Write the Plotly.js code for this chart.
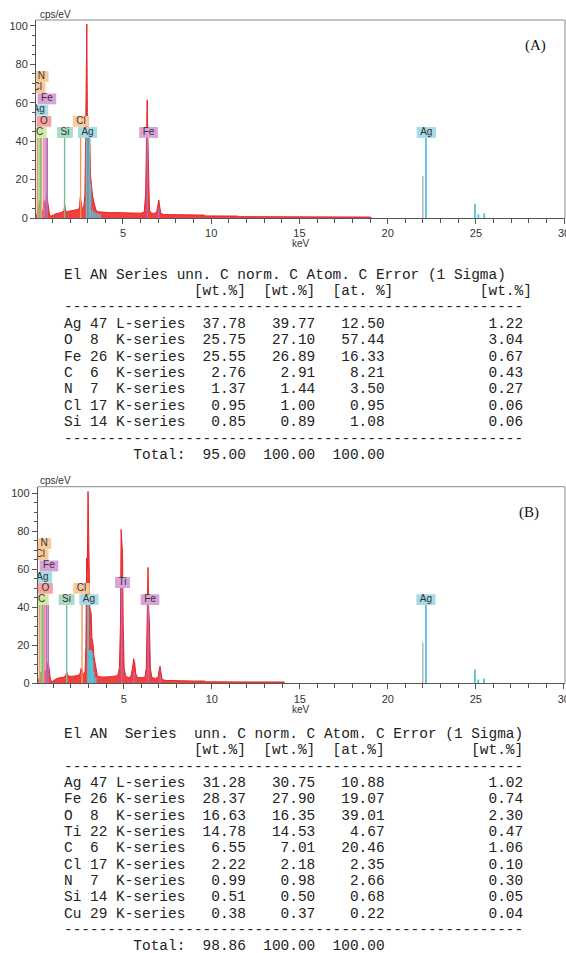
<!DOCTYPE html>
<html><head><meta charset="utf-8">
<script src="https://cdn.plot.ly/plotly-3.0.1.min.js"></script>
<style>html,body{margin:0;padding:0;background:#fff;}#chart{width:566px;height:953px;}</style>
</head><body><div id="chart"></div>
<script>
// ---------------- Spectrum A (keV, cps/eV) ----------------
const specA_keV = [0.07,0.10,0.15,0.20,0.24,0.27,0.31,0.36,0.40,0.45,0.50,0.53,0.57,0.62,0.67,0.70,0.74,0.78,0.84,0.93,1.03,1.20,1.40,1.58,1.65,1.70,1.75,1.88,2.10,2.30,2.48,2.54,2.58,2.62,2.68,2.78,2.84,2.88,2.92,2.95,2.98,3.01,3.05,3.09,3.12,3.16,3.21,3.27,3.33,3.39,3.47,3.60,3.80,4.20,4.60,5.00,5.50,6.00,6.20,6.28,6.33,6.37,6.41,6.45,6.50,6.60,6.80,6.92,6.98,7.03,7.08,7.14,7.30,7.60,8.00,9.00,9.60,9.65,10.5,11.5,11.55,13.0,14.0,14.05,16.0,19.0,19.1];
const specA_cps = [0,1.5,3,4,7,9,5,4,4,3,6,9,6,7,11,12,8,4,1.5,1.0,1.5,2.2,2.6,3.0,3.5,7,3.6,3.4,3.7,4.0,4.5,6,11,9,5,6,12,40,75,101,55,40,38,44,40,22,16,12,9,6,4,3.2,3.0,2.8,2.8,2.7,2.6,2.5,3.0,12,40,61.5,42,12,4,2.6,2.4,3.5,7,9.4,6,2.5,1.8,1.8,1.7,1.6,1.5,1.1,1.1,1.0,0.7,0.7,0.7,0.5,0.5,0.5,0];

// ---------------- Spectrum B (keV, cps/eV) ----------------
const specB_keV = [0.11,0.14,0.20,0.25,0.30,0.35,0.40,0.46,0.52,0.56,0.60,0.65,0.70,0.74,0.78,0.84,0.95,1.05,1.20,1.40,1.60,1.70,1.76,1.82,2.00,2.20,2.40,2.52,2.58,2.63,2.70,2.80,2.85,2.89,2.93,2.97,3.00,3.03,3.07,3.11,3.15,3.19,3.25,3.31,3.37,3.43,3.50,3.60,3.80,4.20,4.50,4.65,4.75,4.81,4.85,4.89,4.93,4.97,5.02,5.10,5.25,5.40,5.50,5.56,5.62,5.68,5.80,6.00,6.20,6.28,6.33,6.38,6.42,6.46,6.51,6.60,6.80,6.95,7.01,7.06,7.11,7.18,7.40,8.00,9.00,9.60,9.65,12.0,14.1,14.15];
const specB_cps = [0,1.5,3,4,6,4,4,3.5,6,7,5,8,11,9,4,1.5,1.0,1.8,2.5,3.0,3.3,4,6,4,3.6,3.8,4.2,5,8,7,4.5,6,20,66,60,101,75,42,40,38,37,24,21,14,10,6,4,3.5,3.3,3.4,3.6,4,8,30,81,70,68,30,8,4,3,3.5,8,13,11,5,3,3,3.2,8,37.7,61,38,32,8,3,2.5,3.2,7,9,6,2,1.5,1.3,1.2,1.2,0.8,0.7,0.7,0];

// ---------------- Element marker lines ----------------
const linesA_el  = ["Cl","C","Ag","N","O","Fe","Fe","Si","Cl","Ag","Ag","Ag","Ag","Ag","Ag","Ag","Fe","Fe","gray","Ag","Ag","Ag","Ag"];
const linesA_keV = [0.15,0.24,0.33,0.39,0.52,0.64,0.71,1.69,2.60,2.94,3.09,3.15,3.27,3.40,3.55,3.70,6.38,7.02,21.99,22.17,24.95,25.14,25.47];
const linesA_top = [41.7,41.7,41.7,41.7,41.7,41.7,41.7,41.7,47.5,41.7,41.7,18,4,3,2.5,2,41.7,5,22,41.7,7.3,2,2.5];

const linesB_el  = ["Cl","C","Ag","N","O","Fe","Fe","Si","Cl","Ag","Ag","Ag","Ag","Ag","Ag","Ag","Ag","Ti","Ti","Fe","Fe","gray","Ag","Ag","Ag","Ag"];
const linesB_keV = [0.20,0.30,0.39,0.45,0.52,0.62,0.71,1.76,2.63,2.97,3.07,3.11,3.15,3.19,3.23,3.28,3.40,4.88,5.58,6.39,7.06,21.99,22.17,24.95,25.14,25.47];
const linesB_top = [41.2,41.2,41.2,41.2,41.2,41.2,41.2,41.2,47.1,41.2,17.5,17.5,17,16,12,6,3,50.2,6,41.2,4.5,21.5,41.2,7.3,2,2.5];

// ---------------- Element labels ----------------
const labA_text = ["N","Cl","Fe","Ag","O","C","Si","Cl","Ag","Fe","Ag"];
const labA_keV  = [0.38,0.14,0.69,0.22,0.52,0.27,1.71,2.62,2.99,6.45,22.19];
const labA_row  = [5,4,3,2,1,0,0,1,0,0,0];

const labB_text = ["N","Cl","Fe","Ag","O","C","Si","Cl","Ag","Ti","Fe","Ag"];
const labB_keV  = [0.47,0.26,0.75,0.38,0.55,0.33,1.75,2.60,3.02,4.93,6.49,22.17];
const labB_row  = [5,4,3,2,1,0,0,1,0,1.53,0,0];

// ---------------- Tables ----------------
const tabA_el     = ["Ag","O","Fe","C","N","Cl","Si"];
const tabA_an     = [47,8,26,6,7,17,14];
const tabA_series = ["L-series","K-series","K-series","K-series","K-series","K-series","K-series"];
const tabA_unn    = [37.78,25.75,25.55,2.76,1.37,0.95,0.85];
const tabA_norm   = [39.77,27.10,26.89,2.91,1.44,1.00,0.89];
const tabA_atom   = [12.50,57.44,16.33,8.21,3.50,0.95,1.08];
const tabA_err    = [1.22,3.04,0.67,0.43,0.27,0.06,0.06];
const tabA_total  = [95.00,100.00,100.00];

const tabB_el     = ["Ag","Fe","O","Ti","C","Cl","N","Si","Cu"];
const tabB_an     = [47,26,8,22,6,17,7,14,29];
const tabB_series = ["L-series","K-series","K-series","K-series","K-series","K-series","K-series","K-series","K-series"];
const tabB_unn    = [31.28,28.37,16.63,14.78,6.55,2.22,0.99,0.51,0.38];
const tabB_norm   = [30.75,27.90,16.35,14.53,7.01,2.18,0.98,0.50,0.37];
const tabB_atom   = [10.88,19.07,39.01,4.67,20.46,2.35,2.66,0.68,0.22];
const tabB_err    = [1.02,0.74,2.30,0.47,1.06,0.10,0.30,0.05,0.04];
const tabB_total  = [98.86,100.00,100.00];

const headA1 = "El AN Series unn. C norm. C Atom. C Error (1 Sigma)";
const headA2 = " ".repeat(15)+"[wt.%]  [wt.%]  [at. %]"+" ".repeat(10)+"[wt.%]";
const headB1 = "El AN  Series  unn. C norm. C Atom. C Error (1 Sigma)";
const headB2 = " ".repeat(15)+"[wt.%]  [wt.%]  [at.%]"+" ".repeat(10)+"[wt.%]";

// ---------------- Styles ----------------
const boxColor = {N:'#f9c99c',Cl:'#f9c99c',Fe:'#d9a3d9',Ag:'#a6dce8',O:'#f5a3a3',C:'#d0e8a4',Si:'#aadcc4',Ti:'#d9a3d9'};
const lineColor= {N:'#f2a660',Cl:'#f29a5c',Fe:'#b46cc2',Ag:'#56c1d5',O:'#f07c7c',C:'#a9d163',Si:'#6fc596',Ti:'#b46cc2',gray:'#b0b0b0'};

const W=566,H=953;
const P = {
  A:{xr:[0.07,30.05], xd:[36,565],   yr:[0,103.1], yd:[20,218],    base:41.7, xa:'x',  ya:'y'},
  B:{xr:[0.11,30.07], xd:[37.7,565], yr:[0,103.5], yd:[486.7,683.3], base:41.2, xa:'x2', ya:'y2'}
};
const cv=document.createElement('canvas').getContext('2d');
cv.font="10px 'Liberation Sans', Arial, sans-serif";

function panelTraces(p, sx, sy, lel, lkev, ltop, ltxt, lkv, lrow){
  const tr=[];
  const kpp=(p.xr[1]-p.xr[0])/(p.xd[1]-p.xd[0]);
  const cpp=(p.yr[1]-p.yr[0])/(p.yd[1]-p.yd[0]);
  const rowH=11.2*cpp;
  tr.push({x:sx,y:sy,type:'scatter',mode:'lines',fill:'tozeroy',fillcolor:'#f04040',
    line:{color:'#e62626',width:1},xaxis:p.xa,yaxis:p.ya,hoverinfo:'skip'});
  const groups={};
  lel.forEach((e,i)=>{(groups[e]=groups[e]||{x:[],y:[]});groups[e].x.push(lkev[i],lkev[i],null);groups[e].y.push(0,ltop[i],null);});
  Object.keys(groups).forEach(e=>{
    tr.push({x:groups[e].x,y:groups[e].y,type:'scatter',mode:'lines',line:{color:lineColor[e],width:(e==='Ag'?1.8:1.4)},
      xaxis:p.xa,yaxis:p.ya,hoverinfo:'skip',connectgaps:false});
  });
  const tx=[],ty=[];
  ltxt.forEach((t,i)=>{
    const w=(cv.measureText(t).width+7)*kpp;
    const y0=p.base+lrow[i]*rowH, y1=y0+rowH*0.97;
    const x0=lkv[i]-w/2,x1=lkv[i]+w/2;
    tr.push({x:[x0,x1,x1,x0,x0],y:[y0,y0,y1,y1,y0],type:'scatter',mode:'lines',fill:'toself',
      fillcolor:boxColor[t],line:{width:0,color:boxColor[t]},xaxis:p.xa,yaxis:p.ya,hoverinfo:'skip'});
    tx.push(lkv[i]); ty.push(y0+rowH*0.5);
  });
  tr.push({x:tx,y:ty,text:ltxt,type:'scatter',mode:'text',textposition:'middle center',
    textfont:{family:"'Liberation Sans', Arial, sans-serif",size:10,color:'#333'},xaxis:p.xa,yaxis:p.ya,hoverinfo:'skip'});
  return tr;
}

const data=[].concat(
  panelTraces(P.A,specA_keV,specA_cps,linesA_el,linesA_keV,linesA_top,labA_text,labA_keV,labA_row),
  panelTraces(P.B,specB_keV,specB_cps,linesB_el,linesB_keV,linesB_top,labB_text,labB_keV,labB_row)
);

function xAxis(p,anchor){return {domain:[p.xd[0]/W,p.xd[1]/W],range:p.xr,anchor:anchor,showline:true,linecolor:'#555',linewidth:1,
  ticks:'outside',ticklen:5,tickcolor:'#555',tick0:0,dtick:5,showgrid:false,zeroline:false,ticklabeloverflow:'allow',
  minor:{dtick:1,ticks:'outside',ticklen:4,tickcolor:'#555'},
  tickfont:{family:"'Liberation Sans', Arial, sans-serif",size:11,color:'#333'}};}
function yAxis(p,anchor){return {domain:[1-p.yd[1]/H,1-p.yd[0]/H],range:p.yr,anchor:anchor,showline:true,linecolor:'#555',linewidth:1,
  ticks:'outside',ticklen:5,tickcolor:'#555',tick0:0,dtick:20,showgrid:false,zeroline:false,
  minor:{dtick:5,ticks:'outside',ticklen:3,tickcolor:'#555'},
  tickfont:{family:"'Liberation Sans', Arial, sans-serif",size:11,color:'#333'}};}

const nb=s=>s.replace(/ /g,'\u00a0');
const lp=(s,n)=>{s=String(s);while(s.length<n)s=' '+s;return s;};
const rp=(s,n)=>{s=String(s);while(s.length<n)s=s+' ';return s;};
function tableLines(h1,h2,el,an,se,un,no,at,er,tot){
  const L=[h1,h2,'-'.repeat(53)];
  el.forEach((e,i)=>L.push(rp(e,2)+' '+rp(an[i],2)+' '+se[i]+lp(un[i].toFixed(2),7)+lp(no[i].toFixed(2),8)+lp(at[i].toFixed(2),8)+lp(er[i].toFixed(2),16)));
  L.push('-'.repeat(53));
  L.push(' '.repeat(8)+'Total:'+lp(tot[0].toFixed(2),7)+lp(tot[1].toFixed(2),8)+lp(tot[2].toFixed(2),8));
  return L;
}
const ann=[];
function addTable(lines,y0,dy){
  lines.forEach((t,i)=>ann.push({text:nb(t),xref:'paper',yref:'paper',x:62/W,y:1-(y0+i*dy)/H,xanchor:'left',yanchor:'middle',
    showarrow:false,font:{family:"'Liberation Mono', 'DejaVu Sans Mono', monospace",size:14.45,color:'#222'}}));
}
addTable(tableLines(headA1,headA2,tabA_el,tabA_an,tabA_series,tabA_unn,tabA_norm,tabA_atom,tabA_err,tabA_total),274.5,16.4);
addTable(tableLines(headB1,headB2,tabB_el,tabB_an,tabB_series,tabB_unn,tabB_norm,tabB_atom,tabB_err,tabB_total),734,16.33);

const sf={family:"'Liberation Sans', Arial, sans-serif",size:10,color:'#333'};
ann.push({text:'cps/eV',xref:'paper',yref:'paper',x:38/W,y:1-14/H,xanchor:'left',yanchor:'middle',showarrow:false,font:sf});
ann.push({text:'cps/eV',xref:'paper',yref:'paper',x:38/W,y:1-481/H,xanchor:'left',yanchor:'middle',showarrow:false,font:sf});
ann.push({text:'keV',xref:'paper',yref:'paper',x:301/W,y:1-243/H,xanchor:'center',yanchor:'middle',showarrow:false,font:sf});
ann.push({text:'keV',xref:'paper',yref:'paper',x:301/W,y:1-709/H,xanchor:'center',yanchor:'middle',showarrow:false,font:sf});
const tf={family:"'Liberation Serif', 'DejaVu Serif', serif",size:15,color:'#111'};
ann.push({text:'(A)',xref:'paper',yref:'paper',x:535/W,y:1-45/H,xanchor:'center',yanchor:'middle',showarrow:false,font:tf});
ann.push({text:'(B)',xref:'paper',yref:'paper',x:529/W,y:1-512/H,xanchor:'center',yanchor:'middle',showarrow:false,font:tf});

const frame=(xr,yr)=>[
  {type:'line',xref:xr+' domain',yref:yr+' domain',x0:0,x1:1,y0:1,y1:1,line:{color:'#8a8a8a',width:1}},
  {type:'line',xref:xr+' domain',yref:yr+' domain',x0:1,x1:1,y0:0,y1:1,line:{color:'#8a8a8a',width:1}}];

const layout={width:W,height:H,margin:{l:0,r:0,t:0,b:0},showlegend:false,
  paper_bgcolor:'#fff',plot_bgcolor:'#fff',
  xaxis:xAxis(P.A,'y'),yaxis:yAxis(P.A,'x'),
  xaxis2:xAxis(P.B,'y2'),yaxis2:yAxis(P.B,'x2'),
  annotations:ann,shapes:frame('x','y').concat(frame('x2','y2'))};
Plotly.newPlot('chart',data,layout,{displayModeBar:false,staticPlot:true});
</script></body></html>
